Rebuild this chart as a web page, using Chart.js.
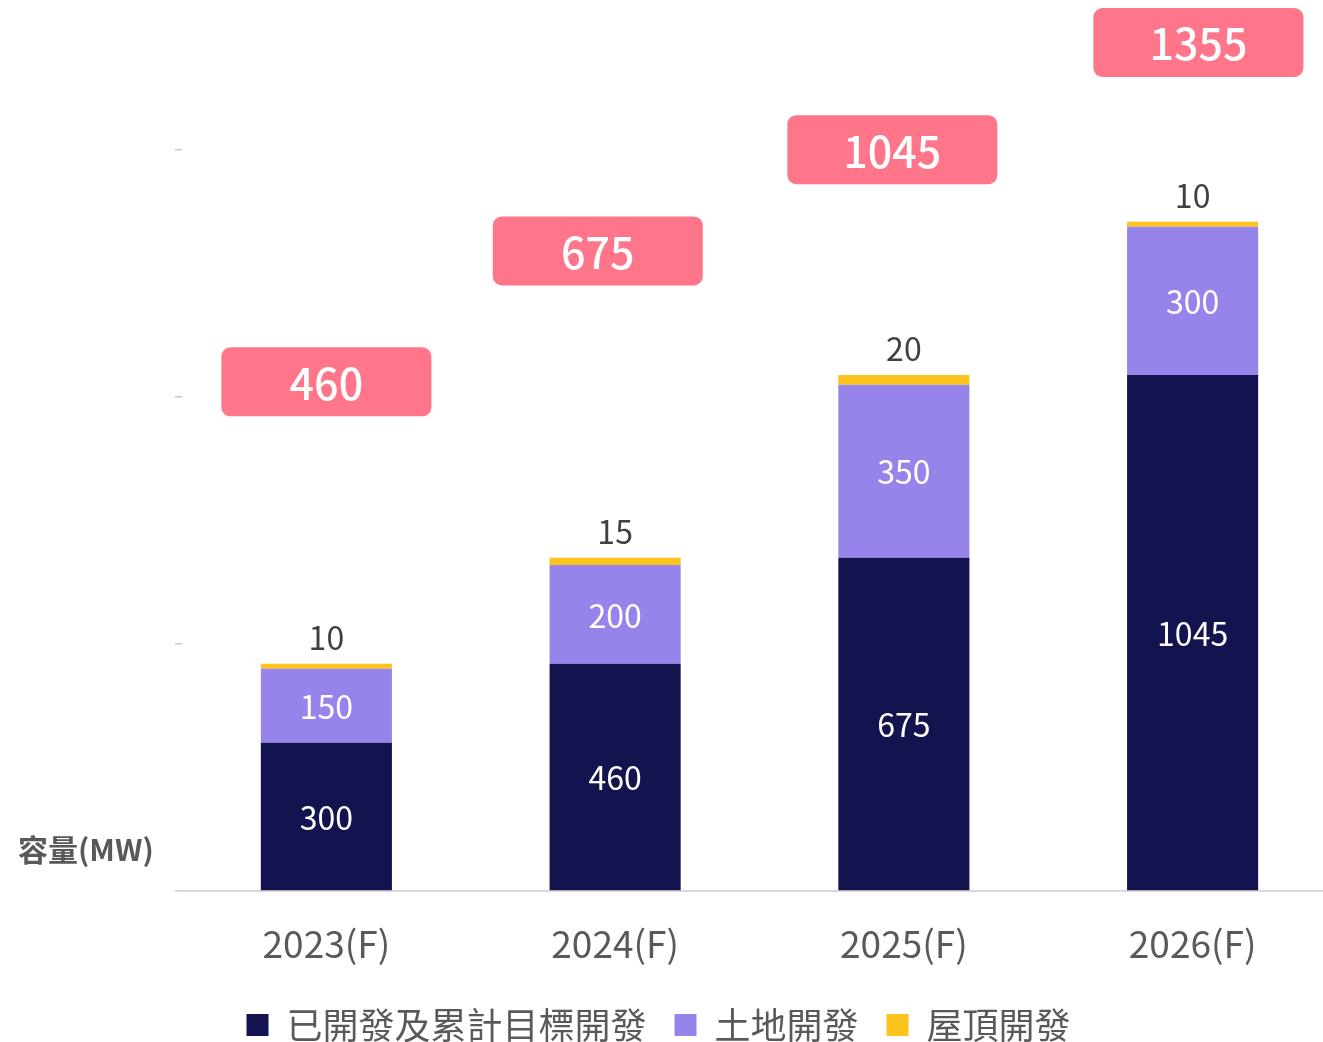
<!DOCTYPE html>
<html lang="zh-Hant">
<head>
<meta charset="utf-8">
<title>容量(MW)</title>
<script src="https://cdn.jsdelivr.net/npm/chart.js@4.4.1/dist/chart.umd.min.js"></script>
<style>
    html, body { margin: 0; padding: 0; background: #fff; overflow: hidden; }
    .chart-wrap { position: relative; width: 1340px; height: 1042px; }
</style>
</head>
<body>
<div class="chart-wrap"><canvas id="capacityChart"></canvas></div>
<script>
const years = ['2023(F)', '2024(F)', '2025(F)', '2026(F)'];
const developed = [300, 460, 675, 1045];
const land = [150, 200, 350, 300];
const rooftop = [10, 15, 20, 10];
const seriesNames = ['已開發及累計目標開發', '土地開發', '屋頂開發'];
const yTicks = [0, 500, 1000, 1500];

// pink total badges: height on the y axis (MW) and a small sideways nudge (in categories)
const badgeLevels = [1030, 1295, 1500, 1717];
const badgeShift = [0, -0.06, -0.04, 0.02];

const totals = years.map((_, i) => developed[i] + land[i] + rooftop[i]);

const FONT = '"Noto Sans CJK TC", "Noto Sans", sans-serif';
const GREY = '#595959';

const barLabels = {
    id: 'barLabels',
    afterDatasetsDraw(chart) {
        const { ctx, chartArea, scales: { x, y } } = chart;
        ctx.save();
        ctx.textAlign = 'center';

        // values inside the two big segments
        ctx.font = `32px ${FONT}`;
        ctx.fillStyle = '#fff';
        ctx.textBaseline = 'middle';
        [0, 1].forEach((di) => {
            const values = chart.data.datasets[di].data;
            chart.getDatasetMeta(di).data.forEach((bar, i) => {
                ctx.fillText(values[i], bar.x, (bar.y + bar.base) / 2 + 1);
            });
        });

        // rooftop value sits above the thin yellow cap
        ctx.fillStyle = '#404040';
        ctx.textBaseline = 'alphabetic';
        chart.getDatasetMeta(2).data.forEach((bar, i) => {
            ctx.fillText(rooftop[i], bar.x, bar.y - 14);
        });

        // totals in pink badges
        totals.forEach((total, i) => {
            const cx = x.getPixelForValue(i + badgeShift[i]);
            const cy = y.getPixelForValue(badgeLevels[i]);
            ctx.fillStyle = '#ff7589';
            ctx.beginPath();
            ctx.roundRect(cx - 105, cy - 35, 210, 69, 9);
            ctx.fill();
            ctx.fillStyle = '#fff';
            ctx.font = `500 43px ${FONT}`;
            ctx.textBaseline = 'middle';
            ctx.fillText(total, cx, cy + 1);
        });

        // unit caption, horizontal, left of the axis
        ctx.textAlign = 'left';
        ctx.textBaseline = 'middle';
        ctx.font = `bold 30px ${FONT}`;
        ctx.fillStyle = GREY;
        ctx.fillText('容量(MW)', 18, chartArea.bottom - 41);
        ctx.restore();
    },
};

new Chart(document.getElementById('capacityChart'), {
    type: 'bar',
    data: {
        labels: years,
        datasets: [
            { label: seriesNames[0], data: developed, backgroundColor: '#13134f' },
            { label: seriesNames[1], data: land, backgroundColor: '#9684eb' },
            { label: seriesNames[2], data: rooftop, backgroundColor: '#fbc31b' },
        ],
    },
    options: {
        responsive: true,
        maintainAspectRatio: false,
        animation: false,
        datasets: {
            bar: { barPercentage: 0.454, categoryPercentage: 1, borderWidth: 0 },
        },
        layout: { padding: { left: -20, right: 3, top: 2, bottom: -11 } },
        plugins: {
            tooltip: { enabled: false },
            legend: {
                position: 'bottom',
                labels: {
                    boxWidth: 22,
                    boxHeight: 22,
                    padding: 28,
                    color: GREY,
                    font: { family: FONT, size: 36 },
                },
            },
        },
        scales: {
            x: {
                stacked: true,
                grid: { display: false },
                border: { display: true, color: '#d9d9d9', width: 2 },
                ticks: { color: GREY, font: { family: FONT, size: 37 }, padding: 23, maxRotation: 0 },
                afterFit: (scale) => { scale.height = 88; },
            },
            y: {
                stacked: true,
                min: 0,
                max: 1800,
                afterBuildTicks: (scale) => { scale.ticks = yTicks.map((value) => ({ value })); },
                ticks: { display: false },
                grid: { drawOnChartArea: false, drawTicks: true, tickLength: 7, color: '#c8c8c8', lineWidth: 1.5 },
                border: { display: false },
                afterFit: (scale) => { scale.width = 202; },
            },
        },
    },
    plugins: [barLabels],
});
</script>
</body>
</html>
